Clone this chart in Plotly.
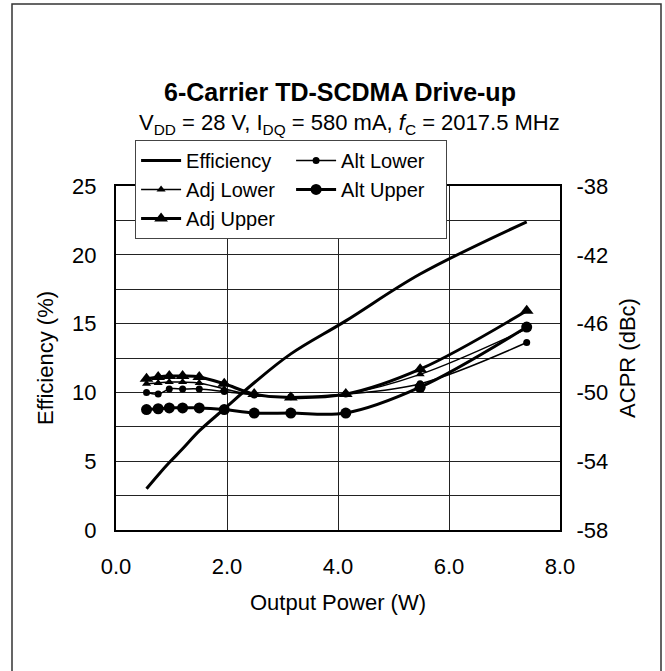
import plotly.graph_objects as go

# ---- data ----
power_w = [0.55, 0.76, 0.96, 1.20, 1.50, 1.95, 2.49, 3.15, 4.14, 5.48, 7.40]
efficiency = [3.0, 4.0, 4.9, 5.9, 7.2, 8.8, 10.7, 12.8, 15.2, 18.6, 22.4]
adj_upper = [-49.2, -49.1, -49.05, -49.05, -49.1, -49.5, -50.1, -50.3, -50.1, -48.65, -45.25]
adj_lower = [-49.5, -49.45, -49.4, -49.4, -49.45, -49.8, -50.15, -50.3, -50.1, -48.95, -46.3]
alt_lower = [-50.0, -50.1, -49.8, -49.8, -49.8, -49.95, -50.15, -50.25, -50.1, -49.5, -47.1]
alt_upper = [-51.0, -50.95, -50.9, -50.9, -50.9, -51.0, -51.2, -51.2, -51.2, -49.7, -46.2]

x_ticks = [0, 2, 4, 6, 8]
x_tick_labels = ["0.0", "2.0", "4.0", "6.0", "8.0"]
eff_ticks = [0, 5, 10, 15, 20, 25]
acpr_ticks = [-58, -54, -50, -46, -42, -38]
acpr_tick_labels = ["-58", "-54", "-50", "-46", "-42", "-38"]

title_text = "<b>6-Carrier TD-SCDMA Drive-up</b>"
subtitle_text = "V<sub>DD</sub> = 28 V, I<sub>DQ</sub> = 580 mA, <i>f</i><sub>C</sub> = 2017.5 MHz"

FONT = "Liberation Sans, Arial, Helvetica, sans-serif"
BLACK = "black"

fig = go.Figure()

fig.add_trace(go.Scatter(
    x=power_w, y=efficiency, name="Efficiency", mode="lines",
    line=dict(color=BLACK, width=3, shape="spline"), yaxis="y"))
fig.add_trace(go.Scatter(
    x=power_w, y=alt_lower, name="Alt Lower", mode="lines+markers",
    line=dict(color=BLACK, width=1.5, shape="spline"),
    marker=dict(symbol="circle", size=7, color=BLACK), yaxis="y2"))
fig.add_trace(go.Scatter(
    x=power_w, y=adj_lower, name="Adj Lower", mode="lines+markers",
    line=dict(color=BLACK, width=1.5, shape="spline"),
    marker=dict(symbol="triangle-up", size=8, color=BLACK), yaxis="y2"))
fig.add_trace(go.Scatter(
    x=power_w, y=alt_upper, name="Alt Upper", mode="lines+markers",
    line=dict(color=BLACK, width=3, shape="spline"),
    marker=dict(symbol="circle", size=11, color=BLACK), yaxis="y2"))
fig.add_trace(go.Scatter(
    x=power_w, y=adj_upper, name="Adj Upper", mode="lines+markers",
    line=dict(color=BLACK, width=3, shape="spline"),
    marker=dict(symbol="triangle-up", size=12, color=BLACK), yaxis="y2"))

fig.update_layout(
    width=665, height=671,
    margin=dict(l=116, r=105, t=186, b=141),
    paper_bgcolor="white", plot_bgcolor="white",
    font=dict(family=FONT, size=22, color=BLACK),
    showlegend=True,
    legend=dict(
        orientation="h", x=0.043, y=1.134, xanchor="left", yanchor="top",
        bgcolor="white", bordercolor="#444", borderwidth=1,
        font=dict(size=20, family=FONT, color=BLACK),
        entrywidth=100, entrywidthmode="pixels",
        itemwidth=40, traceorder="normal",
    ),
    xaxis=dict(
        range=[0, 8], tickvals=x_ticks, ticktext=x_tick_labels,
        showgrid=True, gridcolor="#222", gridwidth=1,
        showline=True, linecolor=BLACK, linewidth=2, mirror=True,
        ticks="outside", ticklen=16, tickcolor="rgba(0,0,0,0)",
        zeroline=False,
        title=dict(text="Output Power (W)", standoff=16, font=dict(size=22)),
    ),
    yaxis=dict(
        range=[0, 25], tickvals=eff_ticks,
        showgrid=True, gridcolor="#222", gridwidth=1,
        minor=dict(dtick=2.5, tick0=0, showgrid=True, gridcolor="#222", gridwidth=1),
        showline=True, linecolor=BLACK, linewidth=2, mirror=True,
        ticks="outside", ticklen=13, tickcolor="rgba(0,0,0,0)",
        zeroline=False,
        title=dict(text="Efficiency (%)", standoff=12, font=dict(size=22)),
    ),
    yaxis2=dict(
        range=[-58, -38], tickvals=acpr_ticks, ticktext=acpr_tick_labels,
        overlaying="y", side="right",
        showgrid=False, zeroline=False,
        showline=True, linecolor=BLACK, linewidth=2,
        ticks="outside", ticklen=10, tickcolor="rgba(0,0,0,0)",
        title=dict(text="ACPR (dBc)", standoff=12, font=dict(size=22)),
    ),
    annotations=[
        dict(text=title_text, xref="paper", yref="paper", x=0.505, y=(530 - 92) / 344,
             xanchor="center", yanchor="middle", showarrow=False,
             font=dict(size=25, family=FONT, color=BLACK)),
        dict(text=subtitle_text, xref="paper", yref="paper", x=0.525, y=(530 - 124) / 344,
             xanchor="center", yanchor="middle", showarrow=False,
             font=dict(size=22, family=FONT, color=BLACK)),
    ],
    shapes=[
        dict(type="rect", xref="paper", yref="paper",
             x0=(12 - 116) / 444, x1=(661 - 116) / 444,
             y0=(530 - 690) / 344, y1=(530 - 4) / 344,
             line=dict(color="#333", width=1.5), fillcolor="rgba(0,0,0,0)", layer="below"),
    ],
)

fig.write_html("out.html", config={"displayModeBar": False},
               post_script="document.body.style.margin='0px';")
